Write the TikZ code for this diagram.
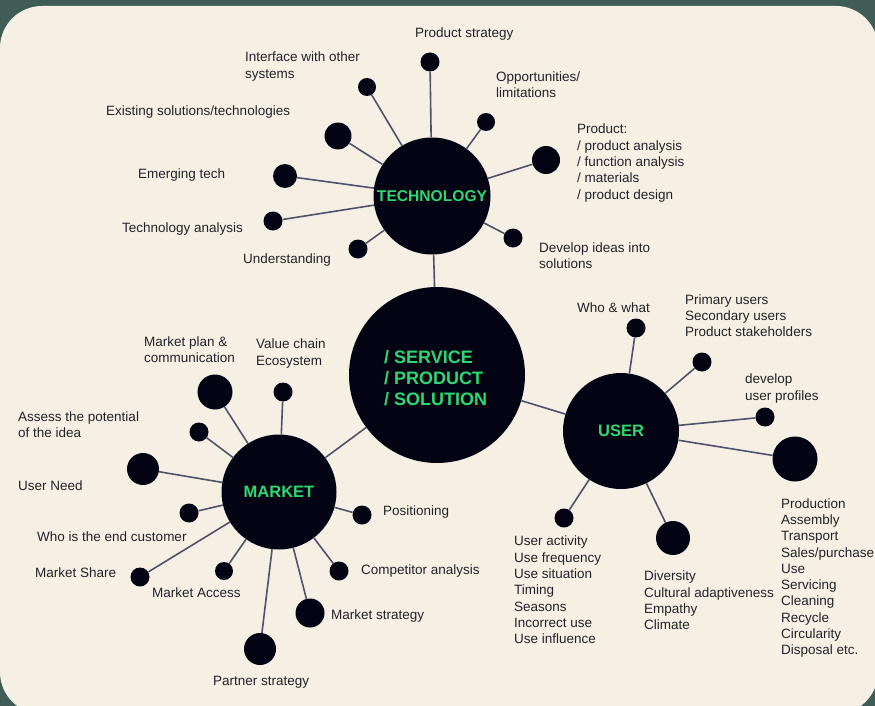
\documentclass[tikz,border=0pt]{standalone}
\usepackage{fontspec}
\setmainfont{Liberation Sans}
\definecolor{bgdark}{RGB}{63,92,86}
\definecolor{cream}{RGB}{246,240,228}
\definecolor{ink}{RGB}{3,3,20}
\definecolor{hubgreen}{RGB}{46,216,112}
\definecolor{wirecol}{RGB}{78,82,108}
\definecolor{txt}{RGB}{34,34,40}
\begin{document}
\begin{tikzpicture}[x=1pt,y=-1pt,
  dot/.style={circle,fill=ink,inner sep=0pt,minimum size=#1},
  hub/.style={circle,fill=ink,inner sep=0pt,minimum size=#1,text=hubgreen,font=\bfseries\fontsize{16.5}{20}\selectfont},
  lbl/.style={anchor=west,inner sep=0pt,align=left,text=txt,yshift=-1.5pt,font=\fontsize{13.5}{16.3}\selectfont},
  wire/.style={draw=wirecol,line width=1.6pt}]
\useasboundingbox (0,0) rectangle (875,706);
\fill[bgdark] (0,0) rectangle (875,706);
\fill[cream,rounded corners=42pt] (0,6) rectangle (878,714);

% hubs
\node[hub=176pt] (core) at (437,375) {};
\node[inner sep=0pt,anchor=west,align=left,text=hubgreen,font=\bfseries\fontsize{18}{21.3}\selectfont] (coretext) at (384,378) {/ SERVICE\\/ PRODUCT\\/ SOLUTION};
\node[hub=117pt,font=\bfseries\fontsize{15.6}{18}\selectfont] (tech) at (432,196) {TECHNOLOGY};
\node[hub=116pt] (user) at (621,431) {USER};
\node[hub=115pt] (market) at (279,492) {MARKET};

% technology satellites
\node[dot=19pt] (t1) at (430,62) {};
\node[dot=18pt] (t2) at (486,122) {};
\node[dot=28pt] (t3) at (546,160) {};
\node[dot=19pt] (t4) at (513,238) {};
\node[dot=18pt] (t5) at (367,87) {};
\node[dot=27pt] (t6) at (338,136) {};
\node[dot=24pt] (t7) at (285,176) {};
\node[dot=19pt] (t8) at (273,221) {};
\node[dot=19pt] (t9) at (358,249) {};

% user satellites
\node[dot=19pt] (u1) at (636,328) {};
\node[dot=19pt] (u2) at (702,362) {};
\node[dot=19pt] (u3) at (765,417) {};
\node[dot=45pt] (u4) at (795,459) {};
\node[dot=19pt] (u5) at (564,518) {};
\node[dot=34pt] (u6) at (673,538) {};

% market satellites
\node[dot=35pt] (m1) at (215,392) {};
\node[dot=19pt] (m2) at (283,392) {};
\node[dot=19pt] (m3) at (199,432) {};
\node[dot=32pt] (m4) at (143,469) {};
\node[dot=19pt] (m5) at (189,513) {};
\node[dot=19pt] (m6) at (140,577) {};
\node[dot=18pt] (m7) at (224,571) {};
\node[dot=19pt] (m8) at (362,515) {};
\node[dot=19pt] (m9) at (339,571) {};
\node[dot=29pt] (m10) at (310,613) {};
\node[dot=32pt] (m11) at (260,649) {};

% connectors
\draw[wire] (core) -- (tech);
\draw[wire] (core) -- (user);
\draw[wire] (core) -- (market);
\foreach \s in {t1,t2,t3,t4,t5,t6,t7,t8,t9} \draw[wire] (tech) -- (\s);
\foreach \s in {u1,u2,u3,u4,u5,u6} \draw[wire] (user) -- (\s);
\foreach \s in {m1,m2,m3,m4,m5,m6,m7,m8,m9,m10,m11} \draw[wire] (market) -- (\s);

% technology labels
\node[lbl] (lt1) at (415,33) {Product strategy};
\node[lbl] (lt2) at (496,83) {Opportunities/\\limitations};
\node[lbl] (lt3) at (577,161.5) {Product:\\/ product analysis\\/ function analysis\\/ materials\\/ product design};
\node[lbl] (lt4) at (539,254) {Develop ideas into\\solutions};
\node[lbl] (lt5) at (245,65) {Interface with other\\systems};
\node[lbl] (lt6) at (106,111) {Existing solutions/technologies};
\node[lbl] (lt7) at (138,174) {Emerging tech};
\node[lbl] (lt8) at (122,228) {Technology analysis};
\node[lbl] (lt9) at (243,259) {Understanding};

% user labels
\node[lbl] (lu1) at (577,306) {Who \& what};
\node[lbl] (lu2) at (685,314) {Primary users\\Secondary users\\Product stakeholders};
\node[lbl] (lu3) at (745,387) {develop\\user profiles};
\node[lbl] (lu4) at (781,576.5) {Production\\Assembly\\Transport\\Sales/purchase\\Use\\Servicing\\Cleaning\\Recycle\\Circularity\\Disposal etc.};
\node[lbl] (lu5) at (514,588.5) {User activity\\Use frequency\\Use situation\\Timing\\Seasons\\Incorrect use\\Use influence};
\node[lbl] (lu6) at (644,599) {Diversity\\Cultural adaptiveness\\Empathy\\Climate};

% market labels
\node[lbl] (lm1) at (144,348) {Market plan \&\\communication};
\node[lbl] (lm2) at (256,352) {Value chain\\Ecosystem};
\node[lbl] (lm3) at (18,423) {Assess the potential\\of the idea};
\node[lbl] (lm4) at (18,484) {User Need};
\node[lbl] (lm5) at (37,535) {Who is the end customer};
\node[lbl] (lm6) at (35,571) {Market Share};
\node[lbl] (lm7) at (152,591) {Market Access};
\node[lbl] (lm8) at (383,511) {Positioning};
\node[lbl] (lm9) at (361,570) {Competitor analysis};
\node[lbl] (lm10) at (331,615) {Market strategy};
\node[lbl] (lm11) at (213,681) {Partner strategy};
\end{tikzpicture}
\end{document}
